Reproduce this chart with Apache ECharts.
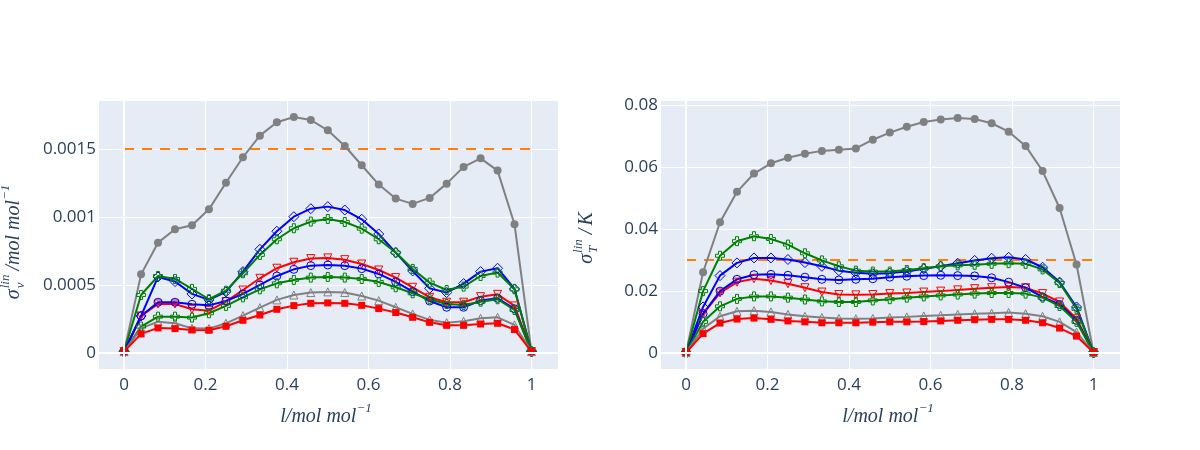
<!DOCTYPE html>
<html><head><meta charset="utf-8">
<script src="https://cdn.jsdelivr.net/npm/echarts@6/dist/echarts.min.js"></script>
<style>html,body{margin:0;padding:0;background:#fff}#c{width:1200px;height:450px}</style>
</head><body><div id="c"></div>
<script>
const xs = [0,0.0417,0.0833,0.125,0.1667,0.2083,0.25,0.2917,0.3333,0.375,0.4167,0.4583,0.5,0.5417,0.5833,0.625,0.6667,0.7083,0.75,0.7917,0.8333,0.875,0.9167,0.9583,1];

// left panel: sigma_v
const vGrayCircle = [0.00001,0.000578,0.000811,0.000909,0.000939,0.001056,0.001252,0.001439,0.001598,0.001696,0.001735,0.001713,0.001637,0.001522,0.00138,0.001238,0.001135,0.001096,0.00114,0.001245,0.001368,0.001431,0.001341,0.000946,0.00001];
const vBlueDiamond = [0.00001,0.000272,0.000559,0.000525,0.000434,0.00039,0.000449,0.000598,0.000762,0.000895,0.001002,0.001061,0.001076,0.001051,0.000983,0.000875,0.000738,0.000603,0.000475,0.000444,0.00051,0.000598,0.000623,0.000471,0.00001];
const vGreenUp = [0.00001,0.000426,0.000566,0.000544,0.000471,0.000395,0.000458,0.000586,0.000721,0.000836,0.000917,0.000966,0.000985,0.000963,0.000914,0.000836,0.000738,0.000618,0.000517,0.000463,0.000488,0.000566,0.000591,0.000468,0.00001];
const vRedTri = [0.00001,0.000272,0.00036,0.00036,0.000321,0.000311,0.000377,0.000463,0.000549,0.000623,0.000667,0.000694,0.000699,0.000686,0.000654,0.00061,0.000554,0.000483,0.000409,0.000373,0.000373,0.000414,0.000431,0.000346,0.00001];
const vBlueCircle = [0.00001,0.000272,0.000373,0.000373,0.000358,0.00035,0.000382,0.000434,0.0005,0.000566,0.000615,0.000642,0.000647,0.000642,0.00062,0.000581,0.000522,0.000451,0.000382,0.000336,0.000336,0.000385,0.000402,0.000324,0.00001];
const vGreenLow = [0.00001,0.000194,0.000267,0.000267,0.00026,0.000292,0.000346,0.000409,0.000468,0.000512,0.000537,0.000554,0.000559,0.000554,0.000544,0.000522,0.000483,0.000439,0.000395,0.00036,0.000353,0.000377,0.000395,0.000316,0.00001];
const vGrayTri = [0.00001,0.000181,0.00023,0.000218,0.000181,0.000179,0.000218,0.000275,0.000333,0.00039,0.000426,0.000444,0.000449,0.000444,0.000419,0.000385,0.000336,0.000287,0.000243,0.000223,0.000233,0.000255,0.000262,0.000206,0.00001];
const vRedSq = [0.00001,0.00014,0.000184,0.000179,0.000169,0.000167,0.000196,0.00024,0.000279,0.000321,0.000348,0.000365,0.000368,0.000365,0.00035,0.000326,0.000297,0.000262,0.000225,0.000203,0.000203,0.000213,0.000218,0.000172,0.00001];
const limitV = 0.0015;

// right panel: sigma_T
const tGrayCircle = [0.0002,0.0261,0.0422,0.0520,0.0579,0.0612,0.0630,0.0643,0.0652,0.0656,0.0660,0.0688,0.0711,0.0730,0.0745,0.0753,0.0758,0.0755,0.0741,0.0714,0.0668,0.0587,0.0468,0.0286,0.0002];
const tBlueDiamond = [0.0002,0.0149,0.0250,0.0291,0.0307,0.0307,0.0302,0.0292,0.0280,0.0266,0.0259,0.0256,0.0258,0.0263,0.0272,0.0280,0.0290,0.0299,0.0306,0.0309,0.0302,0.0277,0.0229,0.0149,0.0002];
const tGreenUp = [0.0002,0.0200,0.0314,0.0361,0.0377,0.0368,0.0350,0.0322,0.0299,0.0280,0.0266,0.0263,0.0263,0.0268,0.0274,0.0280,0.0283,0.0285,0.0288,0.0290,0.0288,0.0270,0.0226,0.0143,0.0002];
const tRedTri = [0.0002,0.0127,0.0194,0.0229,0.0240,0.0234,0.0224,0.0211,0.0197,0.0189,0.0188,0.0189,0.0192,0.0194,0.0197,0.0200,0.0204,0.0208,0.0211,0.0213,0.0211,0.0192,0.0165,0.0111,0.0002];
const tBlueCircle = [0.0002,0.0127,0.0200,0.0238,0.0253,0.0254,0.0251,0.0245,0.0238,0.0236,0.0238,0.0240,0.0245,0.0248,0.0250,0.0251,0.0250,0.0249,0.0243,0.0229,0.0211,0.0181,0.0157,0.0106,0.0002];
const tGreenLow = [0.0002,0.0101,0.0151,0.0175,0.0183,0.0183,0.0179,0.0173,0.0167,0.0165,0.0165,0.0170,0.0174,0.0179,0.0183,0.0186,0.0189,0.0192,0.0194,0.0194,0.0192,0.0179,0.0152,0.0101,0.0002];
const tGrayTri = [0.0002,0.0079,0.0119,0.0135,0.0137,0.0133,0.0125,0.0119,0.0115,0.0112,0.0111,0.0112,0.0115,0.0117,0.0120,0.0122,0.0125,0.0127,0.0129,0.0131,0.0127,0.0119,0.0101,0.0068,0.0002];
const tRedSq = [0.0002,0.0063,0.0097,0.0110,0.0113,0.0109,0.0104,0.0101,0.0098,0.0098,0.0098,0.0100,0.0101,0.0101,0.0102,0.0104,0.0106,0.0108,0.0109,0.0109,0.0106,0.0098,0.0081,0.0055,0.0002];
const limitT = 0.03;

const xTicks = [0,0.2,0.4,0.6,0.8,1];
const yTicksV = [0,0.0005,0.001,0.0015];
const yTicksT = [0,0.02,0.04,0.06,0.08];

const GRAY='#808080', BLUE='#0000ff', GREEN='#008000', RED='#ff0000', ORANGE='#ff7f0e', TXT='#2a3f5f';
const CROSS = 'path://M-1,-3L1,-3L1,-1L3,-1L3,1L1,1L1,3L-1,3L-1,1L-3,1L-3,-1L-1,-1Z';
const styles = [
  {c:GRAY, sym:'circle', size:8, open:false},
  {c:BLUE, sym:'diamond', size:10, open:true},
  {c:GREEN, sym:CROSS, size:9, open:true},
  {c:RED, sym:'triangle', rot:180, size:8, open:true},
  {c:BLUE, sym:'circle', size:8, open:true},
  {c:GREEN, sym:CROSS, size:9, open:true},
  {c:GRAY, sym:'triangle', size:8, open:true},
  {c:RED, sym:'rect', size:7, open:false}
];
const leftSets = [vGrayCircle,vBlueDiamond,vGreenUp,vRedTri,vBlueCircle,vGreenLow,vGrayTri,vRedSq];
const rightSets = [tGrayCircle,tBlueDiamond,tGreenUp,tRedTri,tBlueCircle,tGreenLow,tGrayTri,tRedSq];

function mkSeries(arr, st, gi) {
  return {
    type:'line', xAxisIndex:gi, yAxisIndex:gi, z:3,
    data: xs.map((x,i)=>[x, arr[i]]),
    symbol: st.sym, symbolSize: st.size, symbolRotate: st.rot||0, showAllSymbol:true,
    lineStyle:{color:st.c, width:2},
    itemStyle: st.open ? {color:'rgba(0,0,0,0)', borderColor:st.c, borderWidth:1} : {color:st.c, borderWidth:0},
    emphasis:{disabled:true}, animation:false
  };
}
function limitSeries(val, gi) {
  return {type:'line', xAxisIndex:gi, yAxisIndex:gi, z:2, symbol:'none',
    data:[[0,val],[1,val]], lineStyle:{color:ORANGE, width:2, type:[10,8]}, animation:false};
}
function zeroSeries(gi) {
  return {type:'line', xAxisIndex:gi, yAxisIndex:gi, z:1, symbol:'none', data:[],
    markLine:{silent:true, symbol:'none', label:{show:false}, animation:false,
      lineStyle:{color:'#ffffff', width:2, type:'solid'},
      data:[{yAxis:0},{xAxis:0}]}};
}
function isTick(v, ticks){ return ticks.some(t=>Math.abs(v-t) < 1e-9 + Math.abs(t)*1e-6); }
function xAxis(gi){
  return {type:'value', gridIndex:gi, min:-0.064, max:1.065, splitNumber:5,
    axisLine:{show:false}, axisTick:{show:false},
    splitLine:{lineStyle:{color:'#ffffff', width:1}},
    axisLabel:{color:TXT, fontSize:17, fontFamily:'"Open Sans"', margin:8,
      formatter:v=> isTick(v,xTicks) ? String(+v.toFixed(4)) : ''}};
}
function yAxis(gi, min, max, ticks){
  return {type:'value', gridIndex:gi, min:min, max:max, splitNumber:4,
    axisLine:{show:false}, axisTick:{show:false},
    splitLine:{lineStyle:{color:'#ffffff', width:1}},
    axisLabel:{color:TXT, fontSize:17, fontFamily:'"Open Sans"', margin:2,
      formatter:v=> isTick(v,ticks) ? String(+v.toFixed(6)) : ''}};
}

// math-style titles
const SERIF = '"Liberation Serif","DejaVu Serif",serif';
const cv = document.createElement('canvas').getContext('2d');
function meas(t,s){ cv.font = 'italic '+s+'px '+SERIF; return cv.measureText(t).width; }
function txt(t, x, y, s){
  return {type:'text', x:x, y:y, silent:true, style:{text:t, fill:TXT, fontSize:s, fontFamily:SERIF, fontStyle:'italic',
    align:'left', verticalAlign:'middle', textAlign:'left', textVerticalAlign:'middle'}};
}
function mathTitle(pieces, cx, cy, vertical){
  let x = 0; const ch = [];
  pieces.forEach(p=>{
    if (p.stack){
      ch.push(txt(p.sup, x, -8, p.s)); ch.push(txt(p.sub, x, 7, p.s));
      x += Math.max(meas(p.sup,p.s), meas(p.sub,p.s)) + (p.gap||0);
    } else {
      ch.push(txt(p.t, x, p.dy||0, p.s)); x += meas(p.t,p.s) + (p.gap||0);
    }
  });
  ch.forEach(c=>{ c.x -= x/2; });
  return {type:'group', x:cx, y:cy, rotation: vertical ? Math.PI/2 : 0, children:ch};
}
const xTitle = [{t:'l/mol mol', s:20},{t:'−1', s:13, dy:-8}];
const yTitleV = [{t:'σ', s:20, gap:1},{stack:true, sup:'lin', sub:'v', s:13, gap:4},{t:'/mol mol', s:20},{t:'−1', s:13, dy:-8}];
const yTitleT = [{t:'σ', s:20, gap:1},{stack:true, sup:'lin', sub:'T', s:13, gap:5},{t:'/', s:20, gap:3},{t:'K', s:20}];

const series = [limitSeries(limitV,0), limitSeries(limitT,1), zeroSeries(0), zeroSeries(1)];
styles.forEach((st,i)=>{ series.push(mkSeries(leftSets[i], st, 0)); });
styles.forEach((st,i)=>{ series.push(mkSeries(rightSets[i], st, 1)); });

const chart = echarts.init(document.getElementById('c'), null, {renderer:'canvas'});
chart.setOption({
  animation:false,
  backgroundColor:'#ffffff',
  grid:[
    {left:98, top:100, width:460, height:269, show:true, backgroundColor:'#E5ECF6', borderWidth:0, containLabel:false},
    {left:660, top:100, width:460, height:269, show:true, backgroundColor:'#E5ECF6', borderWidth:0, containLabel:false}
  ],
  xAxis:[xAxis(0), xAxis(1)],
  yAxis:[yAxis(0,-0.000118,0.00186,yTicksV), yAxis(1,-0.0051,0.0816,yTicksT)],
  series: series,
  graphic:[
    mathTitle(xTitle, 326, 417, false),
    mathTitle(xTitle, 888, 417, false),
    mathTitle(yTitleV, 14, 242, true),
    mathTitle(yTitleT, 587, 238, true)
  ]
});
</script></body></html>
